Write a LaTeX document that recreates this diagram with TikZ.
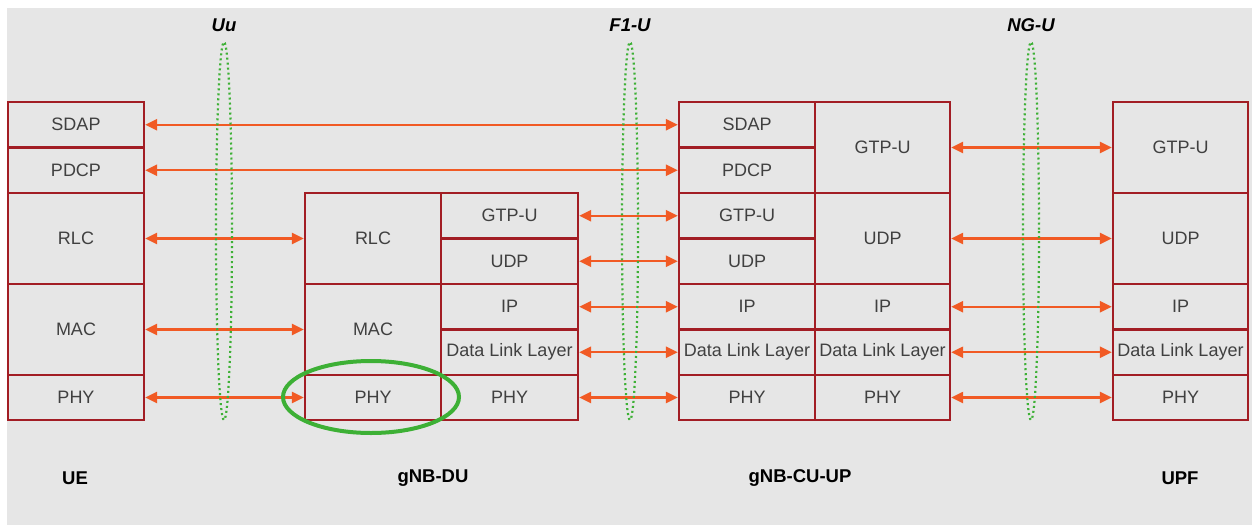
\documentclass[tikz,border=0pt]{standalone}
\usepackage{fontspec}
\setmainfont{Liberation Sans}
\usetikzlibrary{arrows.meta}
\definecolor{bgc}{HTML}{E6E6E6}
\definecolor{boxc}{HTML}{A21D24}
\definecolor{arrc}{HTML}{F15A24}
\definecolor{grn}{HTML}{3DB035}
\definecolor{txt}{HTML}{404040}
\newcommand\blk[6]{%
  \node[layer, minimum width={(#4-#2)*1pt}, minimum height={(#5-#3)*1pt}]
    (#1) at ({(#2+#4)/2},{(#3+#5)/2}) {#6};}
\begin{document}
\begin{tikzpicture}[x=1pt,y=-1pt,
  layer/.style={draw=boxc, line width=2.4pt, inner sep=0pt, text=txt,
    font=\fontsize{18}{20}\selectfont},
  link/.style={arrc, line width=2.4pt, {Triangle[length=12pt,width=11pt]}-{Triangle[length=12pt,width=11pt]}},
  iface/.style={grn, line width=2.2pt, dash pattern=on 2pt off 3pt},
  ifl/.style={font=\fontsize{18.5}{20}\selectfont\bfseries\itshape, text=black},
  ent/.style={font=\fontsize{18.5}{20}\selectfont\bfseries, text=black}]
\useasboundingbox (0,0) rectangle (1252,525);
\fill[bgc] (7,8) rectangle (1252,525);
% UE
\blk{ueSDAP}{8}{102}{144}{147.5}{SDAP}
\blk{uePDCP}{8}{147.5}{144}{193}{PDCP}
\blk{ueRLC}{8}{193}{144}{284}{RLC}
\blk{ueMAC}{8}{284}{144}{375}{MAC}
\blk{uePHY}{8}{375}{144}{420}{PHY}
% gNB-DU
\blk{duRLC}{305}{193}{441}{284}{RLC}
\blk{duMAC}{305}{284}{441}{375}{MAC}
\blk{duPHY}{305}{375}{441}{420}{PHY}
\blk{duGTP}{441}{193}{578}{238.5}{GTP-U}
\blk{duUDP}{441}{238.5}{578}{284}{UDP}
\blk{duIP}{441}{284}{578}{329.5}{IP}
\blk{duDLL}{441}{329.5}{578}{375}{Data Link Layer}
\blk{duPHYr}{441}{375}{578}{420}{PHY}
% gNB-CU-UP
\blk{cuSDAP}{679}{102}{815}{147.5}{SDAP}
\blk{cuPDCP}{679}{147.5}{815}{193}{PDCP}
\blk{cuGTPl}{679}{193}{815}{238.5}{GTP-U}
\blk{cuUDPl}{679}{238.5}{815}{284}{UDP}
\blk{cuIPl}{679}{284}{815}{329.5}{IP}
\blk{cuDLLl}{679}{329.5}{815}{375}{Data Link Layer}
\blk{cuPHYl}{679}{375}{815}{420}{PHY}
\blk{cuGTPr}{815}{102}{950}{193}{GTP-U}
\blk{cuUDPr}{815}{193}{950}{284}{UDP}
\blk{cuIPr}{815}{284}{950}{329.5}{IP}
\blk{cuDLLr}{815}{329.5}{950}{375}{Data Link Layer}
\blk{cuPHYr}{815}{375}{950}{420}{PHY}
% UPF
\blk{upGTP}{1113}{102}{1248}{193}{GTP-U}
\blk{upUDP}{1113}{193}{1248}{284}{UDP}
\blk{upIP}{1113}{284}{1248}{329.5}{IP}
\blk{upDLL}{1113}{329.5}{1248}{375}{Data Link Layer}
\blk{upPHY}{1113}{375}{1248}{420}{PHY}
% links
\draw[link] (ueSDAP.east) -- (cuSDAP.west);
\draw[link] (uePDCP.east) -- (cuPDCP.west);
\draw[link] (ueRLC.east) -- (duRLC.west);
\draw[link] (ueMAC.east) -- (duMAC.west);
\draw[link] (uePHY.east) -- (duPHY.west);
\draw[link] (duGTP.east) -- (cuGTPl.west);
\draw[link] (duUDP.east) -- (cuUDPl.west);
\draw[link] (duIP.east) -- (cuIPl.west);
\draw[link] (duDLL.east) -- (cuDLLl.west);
\draw[link] (duPHYr.east) -- (cuPHYl.west);
\draw[link] (cuGTPr.east) -- (upGTP.west);
\draw[link] (cuUDPr.east) -- (upUDP.west);
\draw[link] (cuIPr.east) -- (upIP.west);
\draw[link] (cuDLLr.east) -- (upDLL.west);
\draw[link] (cuPHYr.east) -- (upPHY.west);
% interfaces
\draw[iface] (224,231) ellipse [x radius=8, y radius=189];
\draw[iface] (630,231) ellipse [x radius=8, y radius=189];
\draw[iface] (1031,231) ellipse [x radius=8, y radius=189];
\node[ifl] (lUu) at (224,25) {Uu};
\node[ifl] (lF1) at (630,25) {F1-U};
\node[ifl] (lNG) at (1031,25) {NG-U};
% highlight
\draw[grn, line width=4pt] (371,397) ellipse [x radius=88, y radius=36];
% entity labels
\node[ent] (eUE) at (75,478) {UE};
\node[ent] (eDU) at (433,478) {gNB-DU};
\node[ent] (eCU) at (800,478) {gNB-CU-UP};
\node[ent] (eUPF) at (1180,478) {UPF};
\end{tikzpicture}
\end{document}
